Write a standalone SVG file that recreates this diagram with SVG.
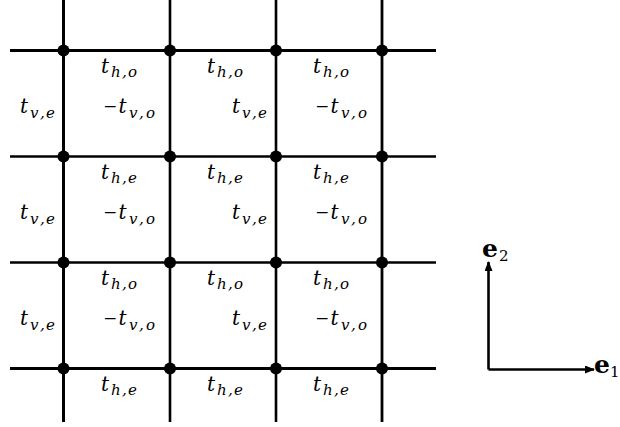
<svg xmlns="http://www.w3.org/2000/svg" width="620" height="427" viewBox="0 0 620 427">
<style>
.ln{stroke:#000;stroke-width:2.6;fill:none}
.dot{fill:#000}
text{font-family:'DejaVu Serif','Liberation Serif',serif;fill:#000}
.m{font-style:italic;font-size:20px}
.s{font-size:15px}
.mi{font-style:normal;font-size:17px}
.b{font-weight:bold;font-size:25px}
.bs{font-weight:normal;font-size:15px}
</style>
<defs>
<marker id="ah" viewBox="0 0 10 8" refX="9" refY="4" markerWidth="10" markerHeight="8" markerUnits="userSpaceOnUse" orient="auto">
<path d="M0,0 L10,4 L0,8 Z" fill="#000"/>
</marker>
</defs>
<g id="connectors">
<line class="ln" x1="63.5" y1="0" x2="63.5" y2="422" style="stroke-width:3"/>
<line class="ln" x1="170" y1="0" x2="170" y2="422"/>
<line class="ln" x1="276" y1="0" x2="276" y2="422"/>
<line class="ln" x1="382" y1="0" x2="382" y2="422" style="stroke-width:2.8"/>
<line class="ln" x1="10" y1="50.5" x2="436" y2="50.5" style="stroke-width:3"/>
<line class="ln" x1="10" y1="156.5" x2="436" y2="156.5"/>
<line class="ln" x1="10" y1="262.5" x2="436" y2="262.5"/>
<line class="ln" x1="10" y1="368.5" x2="436" y2="368.5" style="stroke-width:3"/>
<line class="ln" x1="488.5" y1="369.5" x2="488.5" y2="262" marker-end="url(#ah)"/>
<line class="ln" x1="488.5" y1="369.5" x2="594" y2="369.5" marker-end="url(#ah)"/>
</g>
<g id="vertices">
<circle class="dot" cx="63.5" cy="50.5" r="6"/><circle class="dot" cx="170" cy="50.5" r="6"/><circle class="dot" cx="276" cy="50.5" r="6"/><circle class="dot" cx="382" cy="50.5" r="6"/>
<circle class="dot" cx="63.5" cy="156.5" r="6"/><circle class="dot" cx="170" cy="156.5" r="6"/><circle class="dot" cx="276" cy="156.5" r="6"/><circle class="dot" cx="382" cy="156.5" r="6"/>
<circle class="dot" cx="63.5" cy="262.5" r="6"/><circle class="dot" cx="170" cy="262.5" r="6"/><circle class="dot" cx="276" cy="262.5" r="6"/><circle class="dot" cx="382" cy="262.5" r="6"/>
<circle class="dot" cx="63.5" cy="368.5" r="6"/><circle class="dot" cx="170" cy="368.5" r="6"/><circle class="dot" cx="276" cy="368.5" r="6"/><circle class="dot" cx="382" cy="368.5" r="6"/>
</g>
<g id="hlabels">
<text class="m" x="101" y="72.5">t<tspan class="s" x="111 122 128" y="77">h,o</tspan></text>
<text class="m" x="207" y="72.5">t<tspan class="s" x="217 228 234" y="77">h,o</tspan></text>
<text class="m" x="313" y="72.5">t<tspan class="s" x="323 334 340" y="77">h,o</tspan></text>
<text class="m" x="101" y="178.5">t<tspan class="s" x="111 122 128" y="183">h,e</tspan></text>
<text class="m" x="207" y="178.5">t<tspan class="s" x="217 228 234" y="183">h,e</tspan></text>
<text class="m" x="313" y="178.5">t<tspan class="s" x="323 334 340" y="183">h,e</tspan></text>
<text class="m" x="101" y="284.5">t<tspan class="s" x="111 122 128" y="289">h,o</tspan></text>
<text class="m" x="207" y="284.5">t<tspan class="s" x="217 228 234" y="289">h,o</tspan></text>
<text class="m" x="313" y="284.5">t<tspan class="s" x="323 334 340" y="289">h,o</tspan></text>
<text class="m" x="101" y="390.5">t<tspan class="s" x="111 122 128" y="395">h,e</tspan></text>
<text class="m" x="207" y="390.5">t<tspan class="s" x="217 228 234" y="395">h,e</tspan></text>
<text class="m" x="313" y="390.5">t<tspan class="s" x="323 334 340" y="395">h,e</tspan></text>
</g>
<g id="vlabels">
<text class="m" x="20" y="113">t<tspan class="s" x="30 40 46" y="117.5">v,e</tspan></text>
<text class="m" x="232" y="113">t<tspan class="s" x="242 252 258" y="117.5">v,e</tspan></text>
<text class="m" x="20" y="219">t<tspan class="s" x="30 40 46" y="223.5">v,e</tspan></text>
<text class="m" x="232" y="219">t<tspan class="s" x="242 252 258" y="223.5">v,e</tspan></text>
<text class="m" x="20" y="325">t<tspan class="s" x="30 40 46" y="329.5">v,e</tspan></text>
<text class="m" x="232" y="325">t<tspan class="s" x="242 252 258" y="329.5">v,e</tspan></text>
<text class="m" x="103" y="112"><tspan class="mi">−</tspan><tspan x="118.5" y="113">t</tspan><tspan class="s" x="129 139 146" y="117.5">v,o</tspan></text>
<text class="m" x="315" y="112"><tspan class="mi">−</tspan><tspan x="330.5" y="113">t</tspan><tspan class="s" x="341 351 358" y="117.5">v,o</tspan></text>
<text class="m" x="103" y="218"><tspan class="mi">−</tspan><tspan x="118.5" y="219">t</tspan><tspan class="s" x="129 139 146" y="223.5">v,o</tspan></text>
<text class="m" x="315" y="218"><tspan class="mi">−</tspan><tspan x="330.5" y="219">t</tspan><tspan class="s" x="341 351 358" y="223.5">v,o</tspan></text>
<text class="m" x="103" y="324"><tspan class="mi">−</tspan><tspan x="118.5" y="325">t</tspan><tspan class="s" x="129 139 146" y="329.5">v,o</tspan></text>
<text class="m" x="315" y="324"><tspan class="mi">−</tspan><tspan x="330.5" y="325">t</tspan><tspan class="s" x="341 351 358" y="329.5">v,o</tspan></text>
</g>
<g id="axes-labels">
<text class="b" x="482" y="257">e<tspan class="bs" x="499" y="261">2</tspan></text>
<text class="b" x="594" y="373">e<tspan class="bs" x="610" y="377">1</tspan></text>
</g>
</svg>
